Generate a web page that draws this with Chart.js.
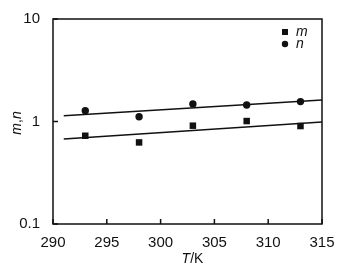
<!DOCTYPE html>
<html>
<head>
<meta charset="utf-8">
<script src="https://cdn.jsdelivr.net/npm/chart.js@4"></script>
<style>html,body{margin:0;padding:0;background:#fff}</style>
</head>
<body>
<canvas id="chart" width="346" height="279"></canvas>
<script>
// measured points
const temps = [293, 298, 303, 308, 313];
const mValues = [0.726, 0.625, 0.91, 1.01, 0.903];
const nValues = [1.276, 1.114, 1.485, 1.451, 1.563];
// fitted lines (end points)
const fitT = [291, 315];
const mFit = [0.674, 0.989];
const nFit = [1.14, 1.625];
// axis ticks
const xTicks = [290, 295, 300, 305, 310, 315];
const yTicks = [0.1, 1, 10];

const FONT = "'Liberation Sans', Arial, sans-serif";
const INK = "#111";

function pts(xs, ys) {
  return xs.map((x, i) => ({ x: x, y: ys[i] }));
}

// draws pieces like [["T", true], ["/K", false]] centered on 0,0
function mixedText(ctx, parts, size) {
  let total = 0;
  const widths = parts.map(p => {
    ctx.font = (p[1] ? "italic " : "") + size + "px " + FONT;
    const w = ctx.measureText(p[0]).width;
    total += w;
    return w;
  });
  let x = -total / 2;
  ctx.textAlign = "left";
  ctx.textBaseline = "middle";
  parts.forEach((p, i) => {
    ctx.font = (p[1] ? "italic " : "") + size + "px " + FONT;
    ctx.fillText(p[0], x, 0);
    x += widths[i];
  });
}

const decorations = {
  id: "decorations",
  afterDraw(chart) {
    const ctx = chart.ctx;
    const a = chart.chartArea;
    const xs = chart.scales.x, ys = chart.scales.y;
    ctx.save();
    ctx.strokeStyle = INK;
    ctx.fillStyle = INK;
    ctx.lineWidth = 1.5;
    ctx.strokeRect(a.left, a.top, a.right - a.left, a.bottom - a.top);

    // inward tick marks
    ctx.beginPath();
    xTicks.forEach(v => {
      const px = xs.getPixelForValue(v);
      ctx.moveTo(px, a.bottom);
      ctx.lineTo(px, a.bottom - 5);
    });
    yTicks.forEach(v => {
      const py = ys.getPixelForValue(v);
      ctx.moveTo(a.left, py);
      ctx.lineTo(a.left + 5, py);
    });
    ctx.stroke();

    // axis titles
    ctx.save();
    ctx.translate(192.5, 259);
    mixedText(ctx, [["T", true], ["/K", false]], 14);
    ctx.restore();

    ctx.save();
    ctx.translate(17, 123);
    ctx.rotate(-Math.PI / 2);
    mixedText(ctx, [["m", true], [",", false], ["n", true]], 14);
    ctx.restore();

    // legend
    const lx = 285, ly = 32;
    ctx.fillRect(lx - 3, ly - 3, 6, 6);
    ctx.beginPath();
    ctx.arc(lx, ly + 12, 3.2, 0, Math.PI * 2);
    ctx.fill();
    ctx.font = "italic 14px " + FONT;
    ctx.textAlign = "left";
    ctx.textBaseline = "middle";
    ctx.fillText(chart.data.datasets[0].label, lx + 11, ly);
    ctx.fillText(chart.data.datasets[1].label, lx + 11, ly + 12);
    ctx.restore();
  }
};

new Chart(document.getElementById("chart"), {
  type: "scatter",
  data: {
    datasets: [
      {
        label: "m",
        data: pts(temps, mValues),
        pointStyle: "rect",
        pointRadius: 4.6,
        backgroundColor: INK,
        borderWidth: 0
      },
      {
        label: "n",
        data: pts(temps, nValues),
        pointStyle: "circle",
        pointRadius: 3.7,
        backgroundColor: INK,
        borderWidth: 0
      },
      {
        label: "m fit",
        type: "line",
        data: pts(fitT, mFit),
        borderColor: INK,
        borderWidth: 1.5,
        pointRadius: 0
      },
      {
        label: "n fit",
        type: "line",
        data: pts(fitT, nFit),
        borderColor: INK,
        borderWidth: 1.5,
        pointRadius: 0
      }
    ]
  },
  options: {
    responsive: false,
    devicePixelRatio: 1,
    animation: false,
    layout: { padding: { top: 19, right: 24, left: 0, bottom: 0 } },
    plugins: { legend: { display: false }, tooltip: { enabled: false } },
    scales: {
      x: {
        type: "linear",
        min: 290,
        max: 315,
        afterBuildTicks: s => { s.ticks = xTicks.map(v => ({ value: v })); },
        afterFit: s => { s.height = 55; },
        grid: { display: false },
        border: { display: false },
        ticks: { color: INK, font: { family: FONT, size: 15 }, padding: 2, maxRotation: 0 }
      },
      y: {
        type: "logarithmic",
        min: 0.1,
        max: 10,
        afterBuildTicks: s => { s.ticks = yTicks.map(v => ({ value: v })); },
        afterFit: s => { s.width = 53; },
        grid: { display: false },
        border: { display: false },
        ticks: {
          color: INK,
          font: { family: FONT, size: 15 },
          padding: 5,
          callback: v => String(v)
        }
      }
    }
  },
  plugins: [decorations]
});
</script>
</body>
</html>
